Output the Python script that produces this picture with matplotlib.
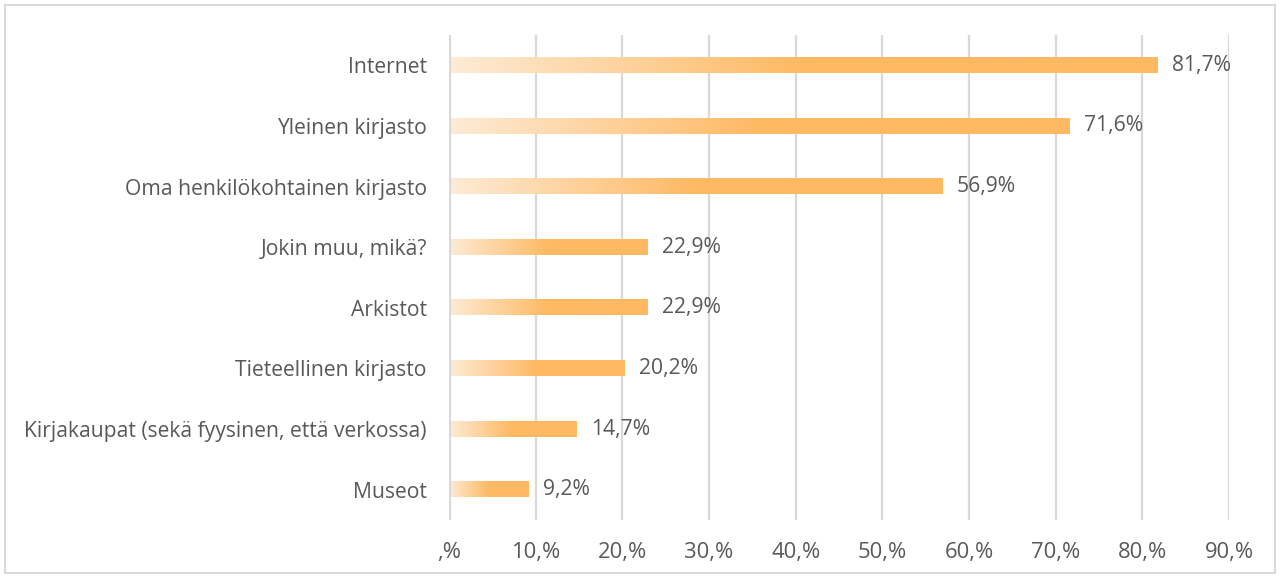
import matplotlib
matplotlib.use('Agg')
import matplotlib.pyplot as plt
import numpy as np
from matplotlib.colors import LinearSegmentedColormap
from matplotlib.patches import Rectangle

categories = ['Internet', 'Yleinen kirjasto', 'Oma henkilökohtainen kirjasto',
              'Jokin muu, mikä?', 'Arkistot', 'Tieteellinen kirjasto',
              'Kirjakaupat (sekä fyysinen, että verkossa)', 'Museot']
values = [81.7, 71.6, 56.9, 22.9, 22.9, 20.2, 14.7, 9.2]
value_labels = ['81,7%', '71,6%', '56,9%', '22,9%', '22,9%', '20,2%', '14,7%', '9,2%']
xticks = [0, 10, 20, 30, 40, 50, 60, 70, 80, 90]
xtick_labels = [',%', '10,%', '20,%', '30,%', '40,%', '50,%', '60,%', '70,%', '80,%', '90,%']

plt.rcParams['font.family'] = ['Open Sans', 'DejaVu Sans']
text_color = '#595959'
grid_color = '#d9d9d9'
fs = 15.2

fig = plt.figure(figsize=(12.81, 5.78), dpi=100)
ax = fig.add_axes([449 / 1281, 58 / 578, 780 / 1281, 485 / 578])

# gradient: light on the left, full orange reached halfway along each bar
cmap = LinearSegmentedColormap.from_list('grad', [(0, '#fdebd6'), (0.5, '#ffb963'), (1, '#ffb963')])
grad = np.linspace(0, 1, 256).reshape(1, -1)

y = np.arange(len(categories))[::-1]
bars = ax.barh(y, values, height=0.25, color='none', edgecolor='none', zorder=3)
for b in bars:
    x0, y0, w, h = b.get_x(), b.get_y(), b.get_width(), b.get_height()
    ax.imshow(grad, cmap=cmap, aspect='auto', extent=[x0, x0 + w, y0, y0 + h],
              interpolation='bicubic', zorder=3)

for yi, v, lab in zip(y, values, value_labels):
    ax.text(v + 1.7, yi, lab, va='center', ha='left', fontsize=fs, color=text_color)

ax.set_xlim(0, 90)
ax.set_ylim(-0.5, len(categories) - 0.5)
ax.set_yticks(y)
ax.set_yticklabels(categories, fontsize=fs, color=text_color)
ax.set_xticks(xticks)
ax.set_xticklabels(xtick_labels, fontsize=15.8, color=text_color)
ax.tick_params(length=0, pad=16, axis='y')
ax.tick_params(length=0, pad=16, axis='x')
ax.set_aspect('auto')

for t in xticks[1:]:
    ax.axvline(t, color=grid_color, lw=1.6, zorder=1)
ax.axvline(0, color=grid_color, lw=3, zorder=4)
for s in ax.spines.values():
    s.set_visible(False)

fig.patches.append(Rectangle((5 / 1281, 5 / 578), 1270 / 1281, 568 / 578,
                             transform=fig.transFigure, fill=False,
                             edgecolor=grid_color, lw=1.5))

plt.savefig('out.png')
